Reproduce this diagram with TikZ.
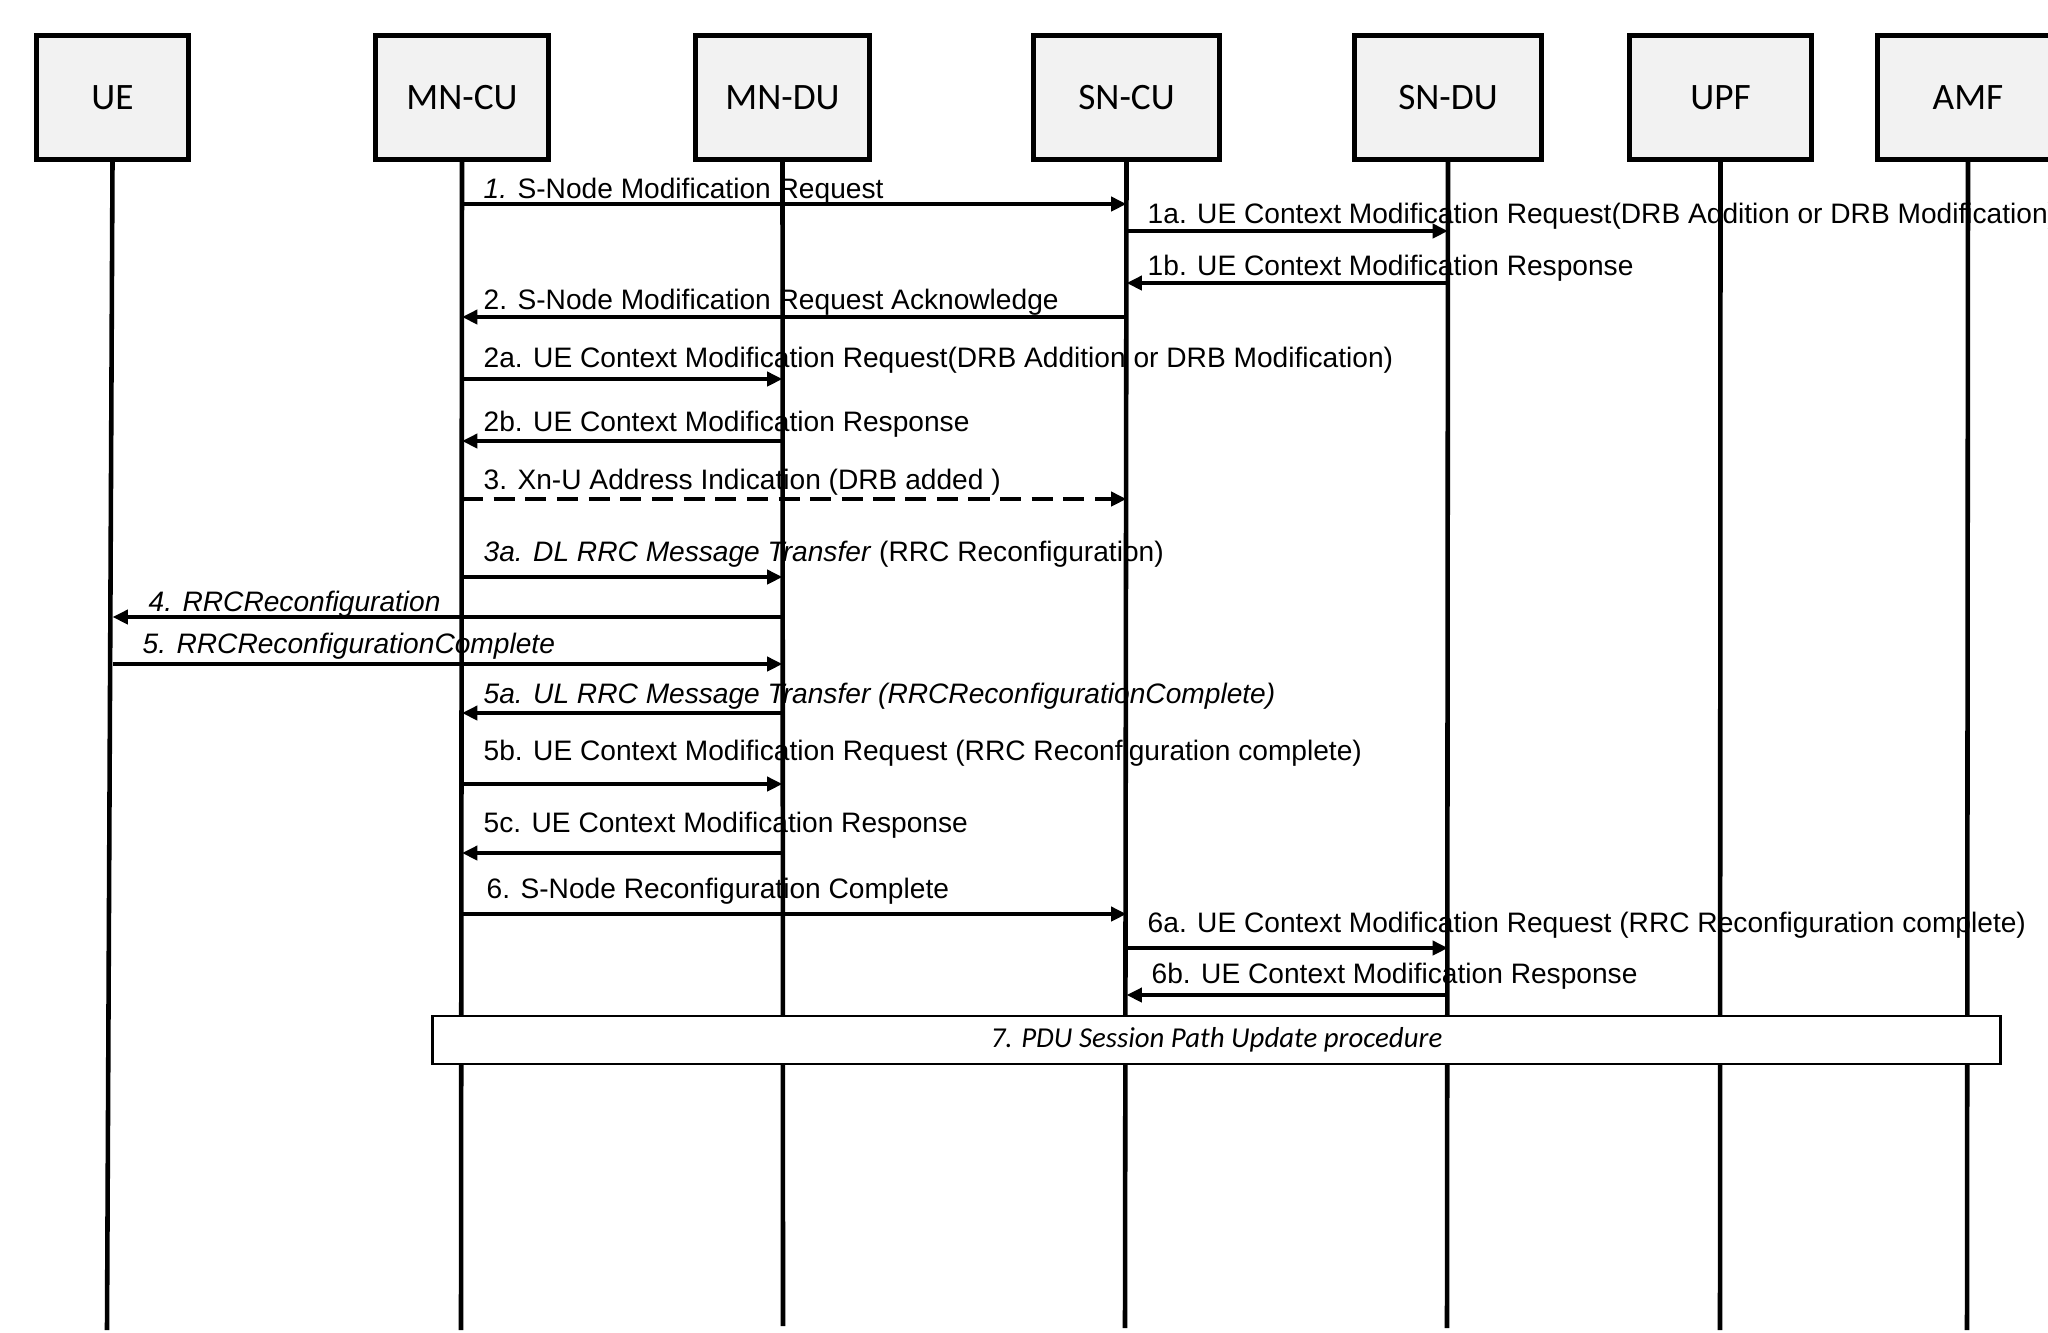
\documentclass[tikz,border=0pt]{standalone}
\usepackage{fontspec}
\setmainfont{Liberation Sans}
\newfontfamily\boxfont{Carlito}
\usetikzlibrary{arrows.meta}

\begin{document}
\begin{tikzpicture}[x=0.01cm, y=-0.01cm,
    entity/.style={draw=black, fill=black!5, line width=1.5pt, minimum height=1.24cm,
        inner sep=0pt, font=\boxfont\fontsize{10.6}{12}\selectfont},
    lifeline/.style={line width=1.3pt},
    msg/.style={line width=1.35pt, -{Triangle[length=4.4pt,width=4pt]}},
    lbl/.style={anchor=base west, inner sep=0pt, font=\fontsize{8}{10}\selectfont}]
    \useasboundingbox (0,0) rectangle (2048,1332);
    \clip (0,0) rectangle (2048,1332);

    % Draw the entities
    \foreach \name/\txt/\x/\w in {UE/UE/112.5/1.52cm, MNCU/MN-CU/462/1.73cm,
            MNDU/MN-DU/782.5/1.74cm, SNCU/SN-CU/1126.5/1.86cm, SNDU/SN-DU/1448/1.87cm,
            UPF/UPF/1720.5/1.82cm, AMF/AMF/1968/1.81cm}
        \node[entity, minimum width=\w] (\name) at (\x,97.5) {\txt};

    % Lifelines down to the bottom
    \foreach \name/\xe/\ye in {UE/107/1330, MNCU/461/1330, MNDU/783/1326, SNCU/1125/1328,
            SNDU/1447/1328, UPF/1720/1330, AMF/1967/1330} {
        \coordinate (\name-end) at (\xe,\ye);
        \draw[lifeline] (\name.south) -- (\name-end);
    }

    % Messages between the lifelines
    \foreach \y/\src/\dst in {204/MNCU/SNCU, 231/SNCU/SNDU, 283/SNDU/SNCU, 317/SNCU/MNCU,
            379/MNCU/MNDU, 441/MNDU/MNCU, 577/MNCU/MNDU, 617/MNDU/UE, 664/UE/MNDU,
            713/MNDU/MNCU, 784/MNCU/MNDU, 853/MNDU/MNCU, 914/MNCU/SNCU, 948/SNCU/SNDU,
            995/SNDU/SNCU}
        \draw[msg] (\src |- 0,\y) -- (\dst |- 0,\y);
    \draw[msg, dash pattern=on 6pt off 3pt] (MNCU |- 0,499) -- (SNCU |- 0,499);

    % Message texts
    \node[lbl] (t1) at (483,198) {\textit{1.} S-Node Modification Request};
    \node[lbl] (t1a) at (1147,223) {1a. UE Context Modification Request(DRB Addition or DRB Modification)};
    \node[lbl] (t1b) at (1147,275) {1b. UE Context Modification Response};
    \node[lbl] (t2) at (483,309) {2. S-Node Modification Request Acknowledge};
    \node[lbl] (t2a) at (483,367) {2a. UE Context Modification Request(DRB Addition or DRB Modification)};
    \node[lbl] (t2b) at (483,431) {2b. UE Context Modification Response};
    \node[lbl] (t3) at (483,489) {3. Xn-U Address Indication (DRB added )};
    \node[lbl] (t3a) at (483,561) {\textit{3a. DL RRC Message Transfer} (RRC Reconfiguration)};
    \node[lbl] (t4) at (148,611) {\textit{4. RRCReconfiguration}};
    \node[lbl] (t5) at (142,653) {\textit{5. RRCReconfigurationComplete}};
    \node[lbl] (t5a) at (483,703) {\textit{5a. UL RRC Message Transfer (RRCReconfigurationComplete)}};
    \node[lbl] (t5b) at (483,760) {5b. UE Context Modification Request (RRC Reconfiguration complete)};
    \node[lbl] (t5c) at (483,832) {5c. UE Context Modification Response};
    \node[lbl] (t6) at (486,898) {6. S-Node Reconfiguration Complete};
    \node[lbl] (t6a) at (1147,932) {6a. UE Context Modification Request (RRC Reconfiguration complete)};
    \node[lbl] (t6b) at (1151,983) {6b. UE Context Modification Response};

    % Procedure box over the lifelines
    \node[draw, line width=0.6pt, fill=white, minimum width=15.67cm, minimum height=0.44cm,
        font=\boxfont\itshape\fontsize{8.2}{10}\selectfont] (pdu) at (1216.5,1040)
        {7. PDU Session Path Update procedure};
\end{tikzpicture}
\end{document}
